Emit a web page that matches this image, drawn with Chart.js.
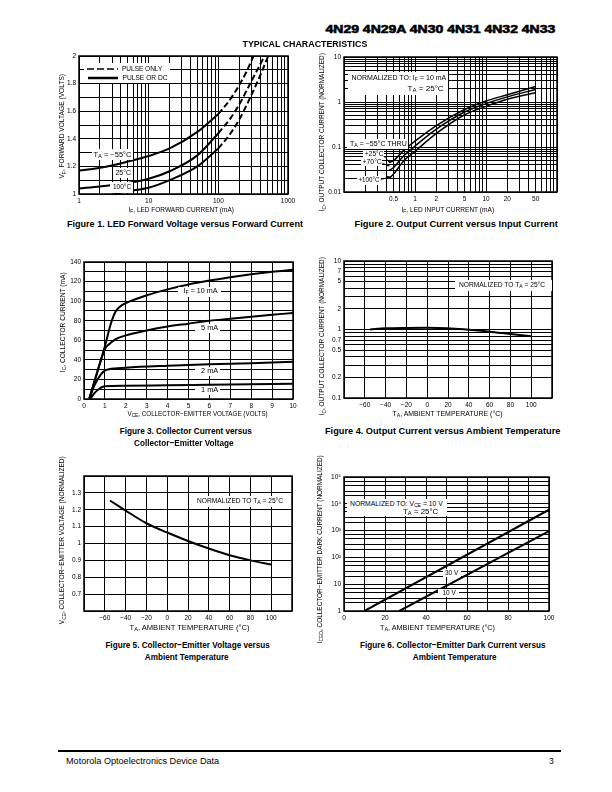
<!DOCTYPE html>
<html><head><meta charset="utf-8">
<script src="https://cdn.jsdelivr.net/npm/chart.js@4"></script>
<style>
html,body{margin:0;padding:0;background:#fff;}
#page{position:relative;width:612px;height:792px;overflow:hidden;font-family:"Liberation Sans",Arial,Helvetica,sans-serif;color:#000;}
.t{position:absolute;white-space:nowrap;line-height:1;transform-origin:center center;z-index:3;}
.b{position:absolute;background:#fff;z-index:2;}
sub{font-size:75%;vertical-align:-0.3em;line-height:0;}
canvas{position:absolute;z-index:1;}
svg{position:absolute;left:0;top:0;z-index:4;}
</style></head>
<body><div id="page"></div>
<script>
// ---------- DATA ----------
// Figure 1: LED forward voltage (V) vs forward current (mA)
const f1M55DcX = [1, 2, 5, 10, 20, 50, 100];
const f1M55DcY = [1.17, 1.19, 1.235, 1.275, 1.33, 1.45, 1.58];
const f1M55PuX = [100, 150, 200, 250, 320];
const f1M55PuY = [1.58, 1.69, 1.79, 1.88, 2.0];
const f125DcX = [1, 2, 5, 10, 20, 50, 100];
const f125DcY = [1.04, 1.055, 1.08, 1.11, 1.165, 1.28, 1.44];
const f125PuX = [100, 150, 200, 300, 400, 460];
const f125PuY = [1.44, 1.55, 1.65, 1.82, 1.94, 2.0];
const f1100DcX = [3.2, 5, 10, 20, 50, 100];
const f1100DcY = [1.0, 1.02, 1.045, 1.1, 1.2, 1.33];
const f1100PuX = [100, 150, 200, 300, 400, 520];
const f1100PuY = [1.33, 1.44, 1.54, 1.72, 1.86, 2.0];
const f1XLabelVals = [1, 10, 100, 1000];
const f1YLabelVals = [1, 1.2, 1.4, 1.6, 1.8, 2];

// Figure 2: normalized output current vs LED input current (mA)
const f2X = [0.43, 0.5, 0.7, 1, 2, 5, 10, 20, 50];
const f2TopY = [0.045, 0.05, 0.085, 0.135, 0.3, 0.68, 1.05, 1.45, 2.2];
const f2MidY = [0.03, 0.035, 0.065, 0.105, 0.25, 0.6, 0.92, 1.3, 1.9];
const f2BotY = [0.02, 0.025, 0.05, 0.08, 0.2, 0.52, 0.8, 1.15, 1.6];
const f2XLabelVals = [0.5, 1, 2, 5, 10, 20, 50];
const f2YLabelVals = [0.01, 0.1, 1, 10];

// Figure 3: collector current (mA) vs VCE (V)
const f3If10X = [0.25, 0.6, 1.0, 1.3, 1.5, 1.7, 2, 3, 4, 5, 6, 7, 8, 9, 10];
const f3If10Y = [0, 25, 54, 78, 89, 94, 98, 106, 112, 117, 121, 124.5, 127.5, 130, 132];
const f3If5X = [0.25, 0.6, 1.0, 1.2, 1.5, 2, 3, 4, 5, 6, 7, 8, 9, 10];
const f3If5Y = [0, 25, 51, 56, 61, 65, 70, 74, 77, 80, 82, 84, 86, 88];
const f3If2X = [0.25, 0.5, 0.8, 1.0, 1.2, 2, 4, 6, 8, 10];
const f3If2Y = [0, 14, 25, 29, 30.5, 32, 34, 35.5, 36.5, 38];
const f3If1X = [0.3, 0.5, 0.7, 0.9, 1.0, 2, 4, 6, 8, 10];
const f3If1Y = [0, 6, 10, 12.5, 13, 13.5, 14, 14.5, 15, 15.5];
const f3XLabelVals = [0, 1, 2, 3, 4, 5, 6, 7, 8, 9, 10];
const f3YLabelVals = [0, 20, 40, 60, 80, 100, 120, 140];

// Figure 4: normalized output current vs ambient temperature
const f4X = [-55, -40, -20, 0, 20, 40, 60, 80, 100];
const f4Y = [1.0, 1.04, 1.055, 1.06, 1.045, 0.99, 0.93, 0.86, 0.8];
const f4XLabelVals = [-60, -40, -20, 0, 20, 40, 60, 80, 100];
const f4YLabelVals = [0.1, 0.2, 0.5, 0.7, 1, 2, 5, 7, 10];

// Figure 5: normalized VCE vs ambient temperature
const f5X = [-55, -40, -20, 0, 20, 40, 60, 80, 100];
const f5Y = [1.255, 1.195, 1.12, 1.065, 1.015, 0.97, 0.93, 0.9, 0.875];
const f5XLabelVals = [-60, -40, -20, 0, 20, 40, 60, 80, 100];
const f5YLabelVals = [0.7, 0.8, 0.9, 1, 1.1, 1.2, 1.3];

// Figure 6: normalized dark current vs ambient temperature
const f6V30X = [10, 100];
const f6V30Y = [1, 6000];
const f6V10X = [27, 100];
const f6V10Y = [1, 950];
const f6XLabelVals = [0, 20, 40, 60, 80, 100];
const f6YLabelVals = [1, 10, 100, 1000, 10000, 100000];
const f6YLabelText = ['1', '10', '10\u00B2', '10\u00B3', '10\u2074', '10\u2075'];

// ---------- HELPERS ----------
const page = document.getElementById('page');
const FONT = '"Liberation Sans", Arial, Helvetica, sans-serif';
Chart.defaults.font.family = FONT;
Chart.defaults.color = '#000';
const PL = 34, PT = 8, PR = 14, PB = 16;

const key = v => Number(v).toPrecision(6);
function logTicks(min, max, mant) {
  mant = mant || [1, 2, 3, 4, 5, 6, 7, 8, 9];
  const out = [];
  for (let e = Math.floor(Math.log10(min)); e <= Math.ceil(Math.log10(max)); e++) {
    for (const m of mant) {
      const v = parseFloat((m * Math.pow(10, e)).toPrecision(6));
      if (v >= min * 0.9999 && v <= max * 1.0001) out.push(v);
    }
  }
  return out;
}
function linTicks(min, max, step) {
  const out = []; const n = Math.round((max - min) / step);
  for (let i = 0; i <= n; i++) out.push(parseFloat((min + i * step).toPrecision(6)));
  return out;
}
const fmtNum = v => (v < 0 ? '\u2212' + Math.abs(v) : String(v));
function axis(type, min, max, gridVals, labelVals, labelText) {
  const map = new Map(labelVals.map((v, i) => [key(v), labelText ? labelText[i] : fmtNum(v)]));
  return {
    type, min, max,
    afterBuildTicks: s => { s.ticks = gridVals.map(v => ({ value: v })); },
    ticks: { autoSkip: false, maxRotation: 0, minRotation: 0, padding: 3, font: { size: 6.5, family: FONT }, color: '#000',
      callback: v => (map.has(key(v)) ? map.get(key(v)) : '') },
    grid: { color: '#000', lineWidth: 1, drawTicks: false },
    border: { display: false }
  };
}
const frame = { id: 'frame', beforeDatasetsDraw(ch) {
  const a = ch.chartArea, c = ch.ctx; c.save(); c.strokeStyle = '#000'; c.lineWidth = 1.5;
  c.strokeRect(a.left, a.top, a.right - a.left, a.bottom - a.top); c.restore(); } };
function ds(xs, ys, opt) {
  return Object.assign({ data: xs.map((x, i) => ({ x, y: ys[i] })), borderColor: '#000', borderWidth: 2,
    pointRadius: 0, showLine: true, fill: false, cubicInterpolationMode: 'monotone' }, opt || {});
}
function mk(area, datasets, xa, ya) {
  const c = document.createElement('canvas');
  const W = area[2] - area[0] + PL + PR, H = area[3] - area[1] + PT + PB;
  c.width = W; c.height = H;
  c.style.cssText = `left:${area[0] - PL}px;top:${area[1] - PT}px;width:${W}px;height:${H}px`;
  page.appendChild(c);
  xa.afterFit = s => { s.height = PB; };
  ya.afterFit = s => { s.width = PL; };
  xa.position = 'bottom'; ya.position = 'left';
  new Chart(c, { type: 'scatter', data: { datasets },
    options: { responsive: false, animation: false, devicePixelRatio: 1, events: [],
      layout: { padding: { left: 0, top: PT, right: PR, bottom: 0 } },
      plugins: { legend: { display: false }, tooltip: { enabled: false } },
      scales: { x: xa, y: ya } },
    plugins: [frame] });
}
function box(x, y, w, h) {
  const d = document.createElement('div'); d.className = 'b';
  d.style.cssText = `left:${x}px;top:${y}px;width:${w}px;height:${h}px`; page.appendChild(d);
}
function txt(html, cx, cy, size, w, o) {
  o = o || {};
  const d = document.createElement('div'); d.className = 't'; d.innerHTML = html;
  d.style.fontSize = size + 'px';
  if (o.bold) d.style.fontWeight = 'bold';
  if (o.extra) d.style.cssText += o.extra;
  page.appendChild(d);
  const w0 = d.offsetWidth, h0 = d.offsetHeight;
  d.style.left = (cx - w0 / 2) + 'px'; d.style.top = (cy - h0 / 2) + 'px';
  const k = w ? w / w0 : (o.k || 1);
  d.style.transform = (o.rot ? 'rotate(-90deg) ' : '') + `scaleX(${k})`;
}

// ---------- CHARTS ----------
const dash = { borderDash: [6, 3] };
mk([79, 56, 288, 194], [
  ds(f1M55DcX, f1M55DcY), ds(f1M55PuX, f1M55PuY, dash),
  ds(f125DcX, f125DcY), ds(f125PuX, f125PuY, dash),
  ds(f1100DcX, f1100DcY), ds(f1100PuX, f1100PuY, dash)
], axis('logarithmic', 1, 1000, logTicks(1, 1000), f1XLabelVals),
   axis('linear', 1, 2, linTicks(1, 2, 0.1), f1YLabelVals));

mk([344, 57, 557, 192], [
  ds(f2X, f2TopY, { borderWidth: 1.5 }), ds(f2X, f2MidY, { borderWidth: 1.5 }), ds(f2X, f2BotY, { borderWidth: 1.5 })
], axis('logarithmic', 0.1, 100, logTicks(0.1, 100), f2XLabelVals),
   axis('logarithmic', 0.01, 10, logTicks(0.01, 10), f2YLabelVals));

mk([84, 262, 293, 399], [
  ds(f3If10X, f3If10Y), ds(f3If5X, f3If5Y), ds(f3If2X, f3If2Y), ds(f3If1X, f3If1Y)
], axis('linear', 0, 10, linTicks(0, 10, 1), f3XLabelVals),
   axis('linear', 0, 140, linTicks(0, 140, 10), f3YLabelVals));

mk([344, 261, 552, 398], [ ds(f4X, f4Y) ],
   axis('linear', -80, 120, linTicks(-80, 120, 20), f4XLabelVals),
   axis('logarithmic', 0.1, 10, logTicks(0.1, 10), f4YLabelVals));

mk([84, 476, 292, 611], [ ds(f5X, f5Y) ],
   axis('linear', -80, 120, linTicks(-80, 120, 20), f5XLabelVals),
   axis('linear', 0.6, 1.4, linTicks(0.6, 1.4, 0.1), f5YLabelVals));

mk([344, 477, 549, 611], [ ds(f6V30X, f6V30Y, { cubicInterpolationMode: 'default' }), ds(f6V10X, f6V10Y, { cubicInterpolationMode: 'default' }) ],
   axis('linear', 0, 100, linTicks(0, 100, 10), f6XLabelVals),
   axis('logarithmic', 1, 100000, logTicks(1, 100000, [1, 2, 3, 5, 7]), f6YLabelVals, f6YLabelText));

// ---------- ANNOTATION BOXES ----------
box(84, 63, 86, 20);
box(92, 149, 41, 11); box(113, 168, 20, 10); box(110, 182, 23, 11);
box(348, 72, 100, 23); box(347, 139, 61, 10); box(363, 150, 21, 8); box(361, 158, 21, 8); box(357, 176, 24, 9);
box(178, 287, 43, 10); box(195, 324, 25, 9); box(195, 367, 25, 9); box(195, 386, 25, 9);
box(455, 280, 97, 11);
box(193, 496, 94, 11);
box(347, 499, 100, 17); box(443, 569, 18, 8); box(438, 589, 21, 8);

// ---------- TEXT ----------
const S = 6.5, CK = 0.86;
txt('4N29 4N29A 4N30 4N31 4N32 4N33', 440, 30, 11.5, 230, { bold: true, extra: 'font-weight:900;-webkit-text-stroke:0.6px #000;' });
txt('TYPICAL CHARACTERISTICS', 304.5, 44.5, 8.5, 125, { bold: true });

// captions
txt('Figure 1. LED Forward Voltage versus Forward Current', 185, 224, 9.5, 236, { bold: true });
txt('Figure 2. Output Current versus Input Current', 456, 224, 9.5, 203, { bold: true });
txt('Figure 3. Collector Current versus', 186, 431, 9.5, 0, { bold: true, k: CK });
txt('Collector\u2212Emitter Voltage', 184, 443, 9.5, 0, { bold: true, k: CK });
txt('Figure 4. Output Current versus Ambient Temperature', 442.5, 431, 9.5, 235, { bold: true });
txt('Figure 5. Collector\u2212Emitter Voltage versus', 187, 645, 9.5, 0, { bold: true, k: CK });
txt('Ambient Temperature', 186, 657, 9.5, 0, { bold: true, k: CK });
txt('Figure 6. Collector\u2212Emitter Dark Current versus', 452.5, 645, 9.5, 0, { bold: true, k: CK });
txt('Ambient Temperature', 454, 657, 9.5, 0, { bold: true, k: CK });

// x-axis titles
txt('I<sub>F</sub>, LED FORWARD CURRENT (mA)', 181, 210, S, 105);
txt('I<sub>F</sub>, LED INPUT CURRENT (mA)', 448, 210, S, 93);
txt('V<sub>CE</sub>, COLLECTOR\u2212EMITTER VOLTAGE (VOLTS)', 197, 414, S, 140);
txt('T<sub>A</sub>, AMBIENT TEMPERATURE (\u00B0C)', 447, 414, S, 110);
txt('T<sub>A</sub>, AMBIENT TEMPERATURE (\u00B0C)', 189, 628, S, 120);
txt('T<sub>A</sub>, AMBIENT TEMPERATURE (\u00B0C)', 437, 628, S, 115);

// y-axis titles
txt('V<sub>F</sub>, FORWARD VOLTAGE (VOLTS)', 62, 126, S, 105, { rot: true });
txt('I<sub>C</sub>, OUTPUT COLLECTOR CURRENT (NORMALIZED)', 322, 132, S, 158, { rot: true });
txt('I<sub>C</sub>, COLLECTOR CURRENT (mA)', 63, 322, S, 100, { rot: true });
txt('I<sub>C</sub>, OUTPUT COLLECTOR CURRENT (NORMALIZED)', 322, 336, S, 158, { rot: true });
txt('V<sub>CE</sub>, COLLECTOR\u2212EMITTER VOLTAGE (NORMALIZED)', 62, 540, S, 168, { rot: true });
txt('I<sub>CEO</sub>, COLLECTOR\u2212EMITTER DARK CURRENT (NORMALIZED)', 320, 549, S, 188, { rot: true });

// in-chart annotations
txt('PULSE ONLY', 142, 69, S, 40);
txt('PULSE OR DC', 144.5, 78, S, 45);
txt('T<sub>A</sub> = \u221255\u00B0C', 112.5, 155, S, 38);
txt('25\u00B0C', 123.5, 173, S, 16);
txt('100\u00B0C', 122, 187, S, 18);
txt('NORMALIZED TO: I<sub>F</sub> = 10 mA', 398.5, 78, S, 95);
txt('T<sub>A</sub> = 25\u00B0C', 425, 89, S, 36);
txt('T<sub>A</sub> = \u221255\u00B0C THRU', 378, 144, S, 57);
txt('+25\u00B0C', 374, 154.5, S, 18);
txt('+70\u00B0C', 371.5, 162, S, 19);
txt('+100\u00B0C', 369, 180.5, S, 21);
txt('I<sub>F</sub> = 10 mA', 200, 291.5, S, 34);
txt('5 mA', 209, 328.5, S, 17);
txt('2 mA', 209, 371.5, S, 17);
txt('1 mA', 209, 390.5, S, 17);
txt('NORMALIZED TO T<sub>A</sub> = 25\u00B0C', 502, 285.5, S, 86);
txt('NORMALIZED TO T<sub>A</sub> = 25\u00B0C', 240, 501, S, 86);
txt('NORMALIZED TO: V<sub>CE</sub> = 10 V', 396.5, 504, S, 93);
txt('T<sub>A</sub> = 25\u00B0C', 420.5, 512, S, 35);
txt('30 V', 451.5, 573, S, 13);
txt('10 V', 449, 593, S, 13);

// footer
const fl = document.createElement('div');
fl.style.cssText = 'position:absolute;left:58px;top:750px;width:503px;height:2px;background:#000;';
page.appendChild(fl);
txt('Motorola Optoelectronics Device Data', 142.5, 761, 8.5, 153);
txt('3', 551.5, 761, 8.5, 0);

// legend lines & arrows (svg)
page.insertAdjacentHTML('beforeend',
 '<svg width="612" height="792" viewBox="0 0 612 792">' +
 '<defs><marker id="ah" markerWidth="4" markerHeight="4" refX="3.5" refY="2" orient="auto"><path d="M0,0 L4,2 L0,4 z" fill="#000"/></marker></defs>' +
 '<line x1="87" y1="69" x2="118" y2="69" stroke="#000" stroke-width="1.5" stroke-dasharray="7,3"/>' +
 '<line x1="88" y1="78" x2="118" y2="78" stroke="#000" stroke-width="2.5"/>' +
 '<line x1="383.5" y1="156" x2="390" y2="162.5" stroke="#000" stroke-width="0.7" marker-end="url(#ah)"/>' +
 '<line x1="382" y1="163" x2="389.5" y2="166" stroke="#000" stroke-width="0.7" marker-end="url(#ah)"/>' +
 '<line x1="380.5" y1="180" x2="389.5" y2="176.5" stroke="#000" stroke-width="0.7" marker-end="url(#ah)"/>' +
 '</svg>');
</script>
</body></html>
